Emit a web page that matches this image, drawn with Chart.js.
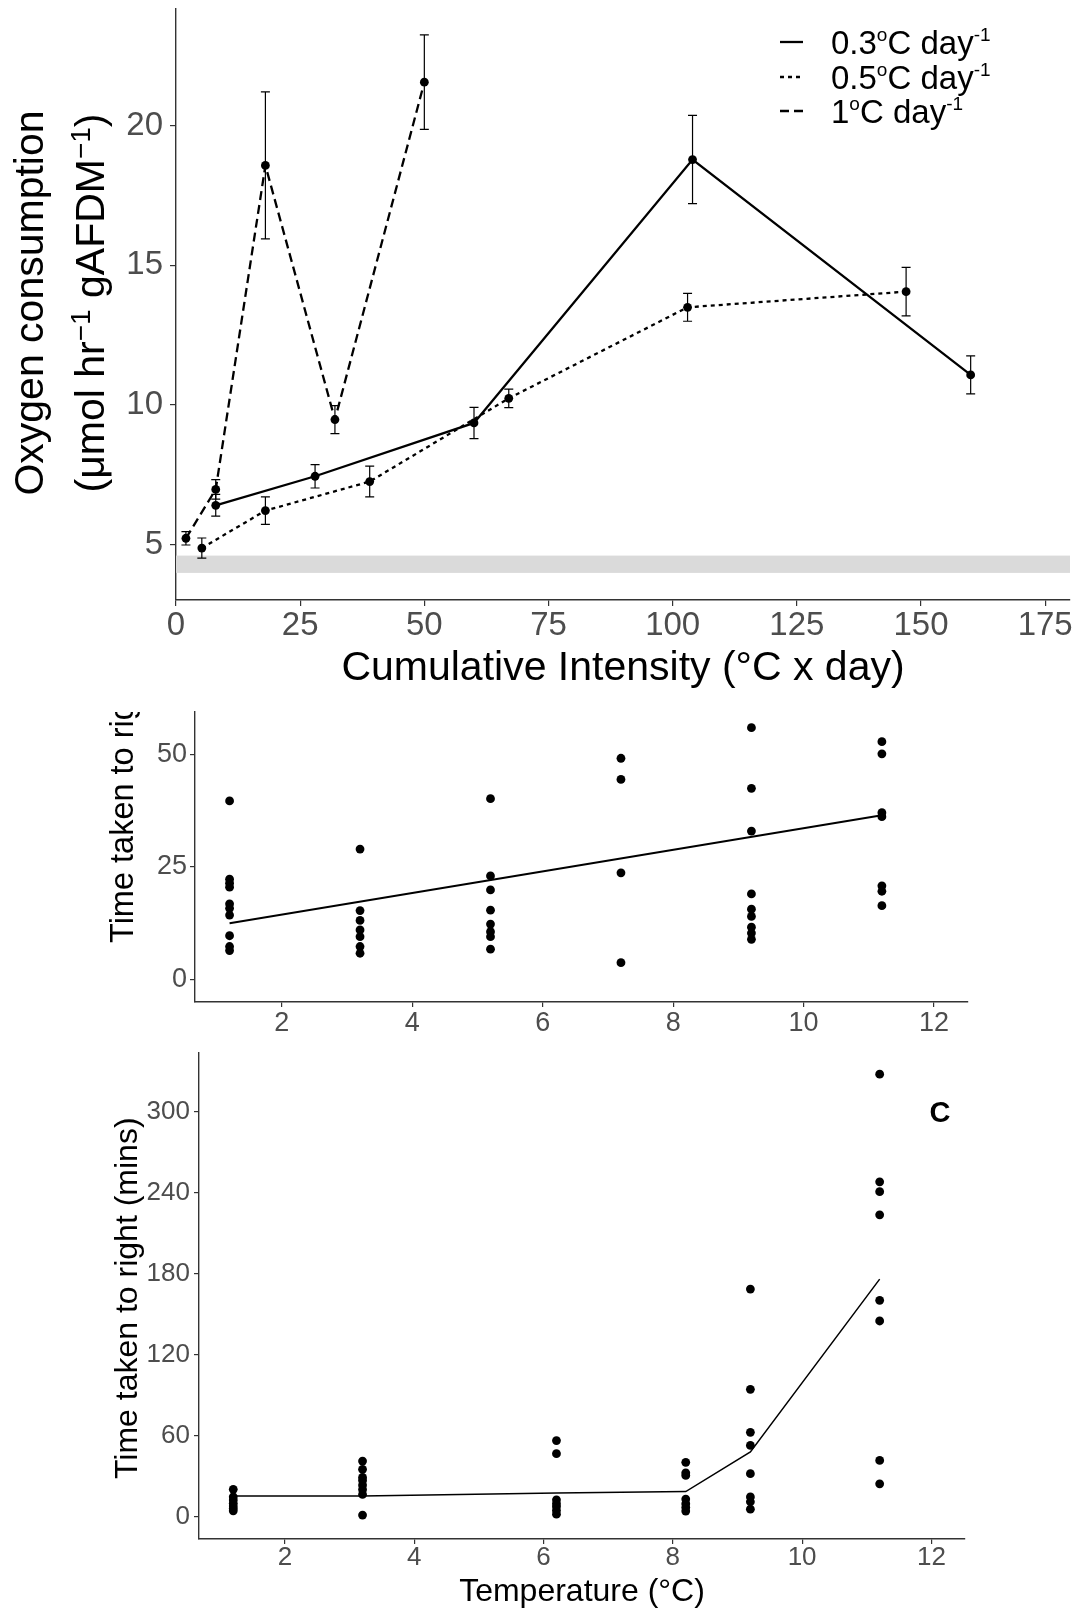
<!DOCTYPE html>
<html>
<head>
<meta charset="utf-8">
<script src="https://cdn.jsdelivr.net/npm/chart.js@4.4.1/dist/chart.umd.min.js"></script>
<style>
  html, body { margin: 0; padding: 0; background: #ffffff; }
  body { width: 1080px; height: 1608px; position: relative; overflow: hidden; }
  canvas { position: absolute; left: 0; }
</style>
</head>
<body>
<canvas id="panelA" width="1080" height="700" style="top:0px"></canvas>
<canvas id="panelB" width="1080" height="340" style="top:700px"></canvas>
<canvas id="panelC" width="1080" height="568" style="top:1040px"></canvas>
<script>
// ---------- Panel A: oxygen consumption against cumulative intensity ----------
const intensity03 = [8, 28, 60, 104, 160];
const oxygen03    = [6.40, 7.44, 9.35, 18.78, 11.07];
const sem03       = [0.39, 0.42, 0.56, 1.58, 0.68];

const intensity05 = [5.2, 18, 39, 67, 103, 147];
const oxygen05    = [4.87, 6.21, 7.25, 10.23, 13.49, 14.05];
const sem05       = [0.36, 0.49, 0.55, 0.33, 0.50, 0.87];

const intensity1  = [2, 8, 18, 32, 50];
const oxygen1     = [5.22, 6.97, 18.57, 9.47, 21.55];
const sem1        = [0.24, 0.35, 2.63, 0.50, 1.69];

const restingBand    = [3.98, 4.60];
const intensityTicks = [0, 25, 50, 75, 100, 125, 150, 175];
const oxygenTicks    = [5, 10, 15, 20];

// ---------- Panel B: righting time, first trial ----------
const tempB = [1.2, 3.2, 5.2, 7.2, 9.2, 11.2];
const rightingB = [
  [39.7, 22.3, 21.4, 20.5, 16.8, 15.8, 14.3, 9.7, 7.3, 6.4],
  [29.0, 15.3, 13.1, 11.0, 9.5, 7.3, 5.8],
  [40.2, 23.0, 19.9, 15.4, 12.3, 10.6, 9.5, 6.7],
  [49.2, 44.5, 23.7, 3.7],
  [56.0, 42.5, 33.0, 19.0, 15.6, 14.0, 11.6, 10.3, 8.9],
  [52.9, 50.2, 37.1, 36.2, 20.8, 19.6, 16.4]
];
const fitBTemp = [1.2, 11.2];
const fitBTime = [12.5, 36.5];
const rightingTicksB = [0, 25, 50];

// ---------- Panel C: righting time, second trial ----------
const tempC = [1.2, 3.2, 6.2, 8.2, 9.2, 11.2];
const rightingC = [
  [20.3, 14.8, 12.4, 9.9, 7.9, 6.1, 4.4],
  [41.2, 35.1, 29.1, 26.9, 23.5, 20.2, 16.5, 1.2],
  [56.4, 46.7, 12.5, 9.7, 7.5, 4.7, 1.9],
  [40.3, 32.5, 30.6, 13.1, 9.7, 6.9, 4.2],
  [168.6, 94.4, 62.5, 52.8, 31.9, 14.7, 11.1, 5.6],
  [327.8, 248.1, 240.8, 223.6, 160.3, 145.0, 41.7, 24.4]
];
const fitCTemp = [1.2, 3.2, 6.2, 8.2, 9.2, 11.2];
const fitCTime = [15.3, 15.4, 17.6, 18.6, 48.0, 176.0];
const rightingTicksC = [0, 60, 120, 180, 240, 300];
const tempTicks = [2, 4, 6, 8, 10, 12];

// ---------- shared helpers ----------
const FAMILY = '"Liberation Sans", Arial, Helvetica, sans-serif';
const TICK_GREY = '#4d4d4d';
const AXIS_GREY = '#333333';

function pairs(xs, ys) { return xs.map((x, i) => ({ x: x, y: ys[i] })); }
function scatterPoints(xs, groups) {
  return xs.flatMap((x, i) => groups[i].map(v => ({ x: x, y: v })));
}

function axis(cfg) {
  return {
    type: 'linear',
    min: cfg.min,
    max: cfg.max,
    afterFit: s => {
      if (cfg.horizontal) s.height = cfg.fit; else s.width = cfg.fit;
      // keep the plotting area fixed: no extra room for overhanging labels
      s.paddingTop = 0; s.paddingBottom = 0; s.paddingLeft = 0; s.paddingRight = 0;
    },
    afterBuildTicks: s => { s.ticks = cfg.ticks.map(v => ({ value: v })); },
    ticks: {
      autoSkip: false, maxRotation: 0, minRotation: 0,
      padding: cfg.pad,
      color: TICK_GREY,
      font: { family: FAMILY, size: cfg.size }
    },
    grid: {
      display: true, drawOnChartArea: false, drawTicks: true,
      tickLength: cfg.tickLen, color: AXIS_GREY, tickColor: AXIS_GREY, lineWidth: 1.2
    },
    border: { display: true, color: AXIS_GREY, width: 1.4 }
  };
}

function fontStr(p) { return (p.weight || 'normal') + ' ' + p.size + 'px ' + FAMILY; }
function richWidth(ctx, parts) {
  let w = 0;
  for (const p of parts) { ctx.font = fontStr(p); w += ctx.measureText(p.t).width; }
  return w;
}
function drawRich(ctx, parts, x, y, align) {
  const w = richWidth(ctx, parts);
  let cx = align === 'center' ? x - w / 2 : (align === 'right' ? x - w : x);
  ctx.textAlign = 'left';
  ctx.textBaseline = 'alphabetic';
  for (const p of parts) {
    ctx.font = fontStr(p);
    ctx.fillStyle = p.color || '#000000';
    ctx.fillText(p.t, cx, y - (p.rise || 0));
    cx += ctx.measureText(p.t).width;
  }
}
function drawRotated(ctx, parts, x, y, align) {
  ctx.save();
  ctx.translate(x, y);
  ctx.rotate(-Math.PI / 2);
  drawRich(ctx, parts, 0, 0, align);
  ctx.restore();
}

const baseOptions = {
  responsive: false,
  animation: false,
  events: [],
  plugins: { legend: { display: false }, tooltip: { enabled: false } }
};

// ---------- Panel A ----------
const seriesA = [
  { label: '0.3', xs: intensity03, ys: oxygen03, err: sem03, dash: [] },
  { label: '0.5', xs: intensity05, ys: oxygen05, err: sem05, dash: [4, 4] },
  { label: '1',   xs: intensity1,  ys: oxygen1,  err: sem1,  dash: [9, 5] }
];

const panelAOverlay = {
  id: 'panelAOverlay',
  beforeDatasetsDraw(chart) {
    const { ctx, chartArea, scales } = chart;
    const yTop = scales.y.getPixelForValue(restingBand[1]);
    const yBot = scales.y.getPixelForValue(restingBand[0]);
    ctx.save();
    ctx.fillStyle = '#dadada';
    ctx.fillRect(chartArea.left, yTop, chartArea.right - chartArea.left, yBot - yTop);
    ctx.restore();
  },
  afterDatasetsDraw(chart) {
    const { ctx, scales } = chart;
    ctx.save();
    ctx.strokeStyle = '#000000';
    ctx.lineWidth = 1.2;
    ctx.setLineDash([]);
    for (const s of seriesA) {
      s.xs.forEach((xv, i) => {
        const px = scales.x.getPixelForValue(xv);
        const hi = scales.y.getPixelForValue(s.ys[i] + s.err[i]);
        const lo = scales.y.getPixelForValue(s.ys[i] - s.err[i]);
        ctx.beginPath();
        ctx.moveTo(px, hi); ctx.lineTo(px, lo);
        ctx.moveTo(px - 4.5, hi); ctx.lineTo(px + 4.5, hi);
        ctx.moveTo(px - 4.5, lo); ctx.lineTo(px + 4.5, lo);
        ctx.stroke();
      });
    }
    ctx.restore();
  },
  afterDraw(chart) {
    const ctx = chart.ctx;
    ctx.save();
    // y-axis title, two lines
    drawRotated(ctx, [{ t: 'Oxygen consumption', size: 41 }], 43, 303, 'center');
    drawRotated(ctx, [
      { t: '(\u03bcmol hr', size: 41 },
      { t: '\u22121', size: 28, rise: 14 },
      { t: ' gAFDM', size: 41 },
      { t: '\u22121', size: 28, rise: 14 },
      { t: ')', size: 41 }
    ], 104, 303, 'center');
    // x-axis title
    drawRich(ctx, [{ t: 'Cumulative Intensity (\u00b0C x day)', size: 41 }], 623, 680, 'center');
    // legend
    const rows = [
      { dash: [], parts: ['0.3', 'o', 'C day', '-1'], y: 54 },
      { dash: [4, 4], parts: ['0.5', 'o', 'C day', '-1'], y: 89 },
      { dash: [9, 5], parts: ['1', 'o', 'C day', '-1'], y: 123 }
    ];
    for (const r of rows) {
      ctx.save();
      ctx.strokeStyle = '#000000';
      ctx.lineWidth = 2.3;
      ctx.setLineDash(r.dash);
      ctx.beginPath();
      ctx.moveTo(780, r.y - 12);
      ctx.lineTo(803, r.y - 12);
      ctx.stroke();
      ctx.restore();
      drawRich(ctx, [
        { t: r.parts[0], size: 33 },
        { t: r.parts[1], size: 19, rise: 13 },
        { t: r.parts[2], size: 33 },
        { t: r.parts[3], size: 19, rise: 13 }
      ], 831, r.y, 'left');
    }
    ctx.restore();
  }
};

new Chart(document.getElementById('panelA'), {
  type: 'scatter',
  data: {
    datasets: seriesA.map(s => ({
      label: s.label,
      data: pairs(s.xs, s.ys),
      showLine: true,
      borderColor: '#000000',
      borderWidth: 2.3,
      borderDash: s.dash,
      pointRadius: 4.4,
      pointBackgroundColor: '#000000',
      pointBorderWidth: 0,
      tension: 0
    }))
  },
  options: Object.assign({}, baseOptions, {
    layout: { padding: { left: 0, right: 10, top: 9, bottom: 0 } },
    scales: {
      x: axis({ min: 0, max: 180, ticks: intensityTicks, size: 33, fit: 100, tickLen: 6, pad: 0, horizontal: true }),
      y: axis({ min: 3.01, max: 24.17, ticks: oxygenTicks, size: 33, fit: 176, tickLen: 6, pad: 7 })
    }
  }),
  plugins: [panelAOverlay]
});

// ---------- Panel B ----------
const panelBOverlay = {
  id: 'panelBOverlay',
  afterDraw(chart) {
    const { ctx, chartArea } = chart;
    ctx.save();
    ctx.beginPath();
    ctx.rect(0, chartArea.top, chart.width, chart.height - chartArea.top);
    ctx.clip();
    drawRotated(ctx, [{ t: 'Time taken to right (mins)', size: 32.5 }], 133, 243, 'left');
    ctx.restore();
  }
};

new Chart(document.getElementById('panelB'), {
  type: 'scatter',
  data: {
    datasets: [
      {
        label: 'fit',
        data: pairs(fitBTemp, fitBTime),
        showLine: true,
        borderColor: '#000000',
        borderWidth: 2,
        pointRadius: 0
      },
      {
        label: 'trials',
        data: scatterPoints(tempB, rightingB),
        pointRadius: 4.4,
        pointBackgroundColor: '#000000',
        pointBorderWidth: 0
      }
    ]
  },
  options: Object.assign({}, baseOptions, {
    layout: { padding: { left: 0, right: 112, top: 12, bottom: 0 } },
    scales: {
      x: axis({ min: 0.67, max: 12.52, ticks: tempTicks, size: 27, fit: 38, tickLen: 5, pad: 0, horizontal: true }),
      y: axis({ min: -5.05, max: 59.5, ticks: rightingTicksB, size: 27, fit: 195, tickLen: 5, pad: 3 })
    }
  }),
  plugins: [panelBOverlay]
});

// ---------- Panel C ----------
const panelCOverlay = {
  id: 'panelCOverlay',
  afterDraw(chart) {
    const ctx = chart.ctx;
    ctx.save();
    drawRotated(ctx, [{ t: 'Time taken to right (mins)', size: 32 }], 137, 439, 'left');
    drawRich(ctx, [{ t: 'Temperature (\u00b0C)', size: 32 }], 582, 561, 'center');
    drawRich(ctx, [{ t: 'C', size: 29, weight: 'bold' }], 940, 82, 'center');
    ctx.restore();
  }
};

new Chart(document.getElementById('panelC'), {
  type: 'scatter',
  data: {
    datasets: [
      {
        label: 'fit',
        data: pairs(fitCTemp, fitCTime),
        showLine: true,
        borderColor: '#000000',
        borderWidth: 1.5,
        pointRadius: 0
      },
      {
        label: 'trials',
        data: scatterPoints(tempC, rightingC),
        pointRadius: 4.4,
        pointBackgroundColor: '#000000',
        pointBorderWidth: 0
      }
    ]
  },
  options: Object.assign({}, baseOptions, {
    layout: { padding: { left: 0, right: 115, top: 13, bottom: 0 } },
    scales: {
      x: axis({ min: 0.67, max: 12.52, ticks: tempTicks, size: 26, fit: 69, tickLen: 5, pad: -2, horizontal: true }),
      y: axis({ min: -16.5, max: 343.5, ticks: rightingTicksC, size: 26, fit: 199, tickLen: 5, pad: 4 })
    }
  }),
  plugins: [panelCOverlay]
});
</script>
</body>
</html>
